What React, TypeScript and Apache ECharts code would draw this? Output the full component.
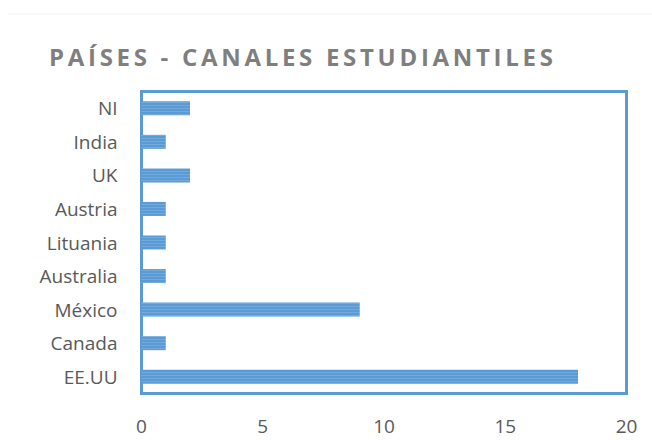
import React, { useEffect, useRef } from "react";
import * as echarts from "echarts";

const TITLE = "PAÍSES - CANALES ESTUDIANTILES";
const categories = ["EE.UU", "Canada", "México", "Australia", "Lituania", "Austria", "UK", "India", "NI"];
const values = [18, 1, 9, 1, 1, 1, 2, 1, 2];
const xTicks = [0, 5, 10, 15, 20];

export default function App() {
  const ref = useRef<HTMLDivElement>(null);
  useEffect(() => {
    if (!ref.current) return;
    const chart = echarts.init(ref.current, null, { renderer: "svg" });
    const blue = "#5b9bd5";
    chart.setOption({
      animation: false,
      backgroundColor: "#ffffff",
      title: {
        text: TITLE,
        left: 44,
        top: 39,
        textStyle: {
          fontFamily: "Open Sans",
          fontSize: 24,
          fontWeight: "bold",
          color: "#7f7f7f",
        },
      },
      graphic: [
        {
          type: "line",
          shape: { x1: 8, y1: 14, x2: 652, y2: 14 },
          style: { stroke: "#f3f3f3", lineWidth: 1 },
          silent: true,
        },
      ],
      grid: {
        left: 141.5,
        right: 25.5,
        top: 91.5,
        bottom: 46.5,
        show: true,
        borderColor: blue,
        borderWidth: 3,
        backgroundColor: "transparent",
        containLabel: false,
      },
      xAxis: {
        type: "value",
        min: xTicks[0],
        max: xTicks[xTicks.length - 1],
        interval: 5,
        axisLine: { show: false },
        axisTick: { show: false },
        splitLine: { show: false },
        axisLabel: {
          margin: 23,
          fontFamily: "Open Sans",
          fontSize: 19,
          color: "#595959",
        },
      },
      yAxis: {
        type: "category",
        data: categories,
        axisLine: { show: false },
        axisTick: { show: false },
        splitLine: { show: false },
        axisLabel: {
          margin: 24,
          fontFamily: "Open Sans",
          fontSize: 19,
          color: "#595959",
        },
      },
      series: [
        {
          type: "bar",
          data: values,
          barWidth: 14,
          itemStyle: {
            color: blue,
            decal: {
              symbol: "rect",
              symbolSize: 1,
              dashArrayX: [[1, 0]],
              dashArrayY: [1, 2],
              color: "rgba(255,255,255,0.15)",
              rotation: 0,
            },
          },
        },
      ],
    });

    // letter spacing for title
    const svg = ref.current.querySelector("svg");
    if (svg) {
      const texts = Array.from(svg.querySelectorAll("text")) as SVGTextElement[];
      const t = texts.find((el) => (el.textContent || "").includes("PAÍSES"));
      if (t) {
        const w = t.getBBox().width;
        const target = 504;
        const n = TITLE.length;
        const ls = Math.max(0, (target - w) / (n - 1));
        t.style.letterSpacing = ls.toFixed(2) + "px";
      }
    }
    return () => chart.dispose();
  }, []);
  return (
    <div
      ref={ref}
      style={{ position: "fixed", left: 0, top: 0, width: 652, height: 440 }}
    />
  );
}
